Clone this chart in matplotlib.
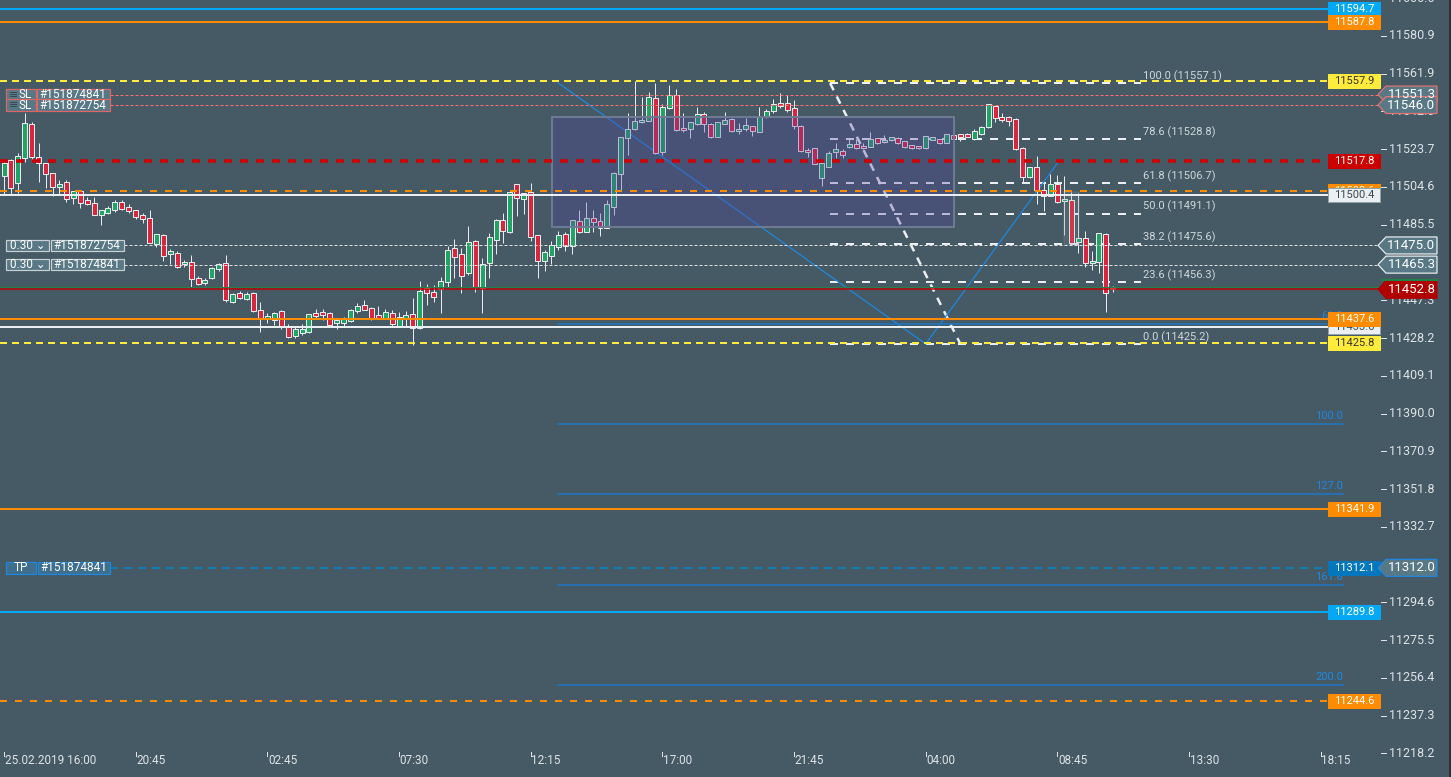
import matplotlib
matplotlib.use('Agg')
import matplotlib.pyplot as plt
from matplotlib.patches import Rectangle, Polygon

plt.rcParams['font.family'] = ['Roboto', 'DejaVu Sans']
plt.rcParams['lines.scale_dashes'] = False

# 15 minute candles, index 0 = 25.02.2019 16:00
opens = [11510.3, 11518.2, 11506.4, 11519.1, 11536.4, 11519.9, 11516.8, 11511.5, 11504.7, 11506.9,
         11498.8, 11502.5, 11498.0, 11496.3, 11490.5, 11491.5, 11492.9, 11496.8, 11494.4, 11492.9,
         11490.5, 11488.7, 11475.7, 11480.3, 11470.5, 11471.0, 11465.5, 11466.5, 11458.4, 11455.9,
         11458.4, 11462.9, 11466.0, 11446.6, 11450.8, 11447.8, 11450.8, 11442.4, 11437.7, 11437.3,
         11441.7, 11434.4, 11429.4, 11430.6, 11431.1, 11440.8, 11441.4, 11440.7, 11435.6, 11435.9,
         11437.0, 11442.0, 11444.9, 11443.2, 11439.7, 11438.5, 11440.7, 11434.4, 11438.5, 11440.2,
         11433.1, 11453.6, 11451.5, 11453.1, 11456.4, 11473.6, 11470.5, 11460.9, 11477.1, 11453.3,
         11466.0, 11477.9, 11487.7, 11482.0, 11505.9, 11498.3, 11501.9, 11480.3, 11467.3, 11469.8,
         11474.1, 11480.6, 11474.6, 11487.2, 11482.0, 11489.0, 11487.4, 11484.0, 11494.6, 11511.0,
         11529.2, 11533.7, 11537.3, 11537.8, 11549.4, 11522.4, 11544.3, 11551.2, 11534.4, 11533.7,
         11536.3, 11541.3, 11536.6, 11530.0, 11536.6, 11538.8, 11532.7, 11533.7, 11535.2, 11532.2,
         11540.3, 11542.8, 11546.9, 11546.9, 11544.3, 11535.2, 11523.1, 11524.1, 11509.0, 11514.8,
         11522.1, 11522.8, 11524.6, 11526.3, 11525.3, 11524.6, 11529.5, 11527.3, 11528.3, 11529.5,
         11527.8, 11525.6, 11525.1, 11524.1, 11528.5, 11528.7, 11527.0, 11530.7, 11531.2, 11531.2,
         11528.7, 11531.2, 11534.7, 11545.5, 11539.8, 11539.8, 11538.8, 11524.4, 11509.8, 11514.8,
         11503.0, 11500.0, 11505.9, 11497.3, 11498.0, 11476.9, 11478.6, 11466.0, 11466.5, 11480.8,
         11452.8]
highs = [11518.2, 11518.5, 11521.6, 11541.8, 11537.3, 11527.0, 11516.8, 11511.5, 11508.1, 11508.1,
         11502.5, 11502.5, 11499.3, 11499.3, 11492.9, 11494.9, 11498.0, 11498.0, 11496.0, 11492.9,
         11491.6, 11492.9, 11480.8, 11480.8, 11473.2, 11472.0, 11467.6, 11470.2, 11459.6, 11458.5,
         11464.0, 11466.0, 11470.2, 11451.0, 11452.0, 11451.5, 11451.6, 11446.6, 11440.7, 11441.5,
         11442.4, 11435.3, 11434.4, 11435.1, 11440.5, 11442.7, 11442.7, 11441.2, 11438.2, 11439.0,
         11442.9, 11446.1, 11447.4, 11444.0, 11444.4, 11442.7, 11442.4, 11441.4, 11441.9, 11448.3,
         11457.0, 11455.5, 11455.0, 11458.9, 11474.7, 11478.3, 11473.9, 11484.8, 11477.6, 11468.5,
         11481.1, 11488.2, 11491.6, 11502.2, 11506.2, 11501.6, 11506.7, 11480.3, 11472.7, 11477.2,
         11482.3, 11482.0, 11487.7, 11492.9, 11497.1, 11492.9, 11491.3, 11497.8, 11512.3, 11529.9,
         11542.1, 11558.1, 11550.2, 11552.7, 11557.0, 11546.4, 11556.1, 11554.1, 11541.8, 11537.3,
         11545.1, 11542.6, 11536.8, 11537.5, 11542.3, 11539.6, 11536.8, 11539.3, 11535.4, 11544.8,
         11543.8, 11548.9, 11551.9, 11551.1, 11548.5, 11535.9, 11524.4, 11524.1, 11516.5, 11522.8,
         11526.6, 11523.8, 11529.2, 11528.7, 11526.6, 11532.2, 11529.5, 11530.8, 11529.9, 11529.7,
         11528.0, 11525.8, 11525.3, 11530.4, 11530.0, 11528.9, 11531.4, 11530.9, 11531.4, 11531.7,
         11533.9, 11535.2, 11546.6, 11545.7, 11542.1, 11540.5, 11539.6, 11524.6, 11514.9, 11520.2,
         11506.7, 11511.0, 11510.6, 11510.1, 11502.2, 11501.7, 11482.3, 11472.2, 11481.3, 11481.4,
         11454.6]
lows = [11500.5, 11500.5, 11501.4, 11517.3, 11518.2, 11507.2, 11503.9, 11500.0, 11500.5, 11497.1,
        11496.0, 11494.1, 11495.5, 11490.5, 11485.3, 11491.0, 11492.1, 11493.0, 11491.6, 11488.5,
        11486.5, 11476.4, 11474.4, 11467.1, 11465.6, 11463.5, 11464.3, 11454.1, 11455.0, 11455.0,
        11457.8, 11462.0, 11446.6, 11446.0, 11447.8, 11447.3, 11441.5, 11431.1, 11435.6, 11434.8,
        11432.6, 11428.1, 11428.1, 11429.7, 11430.6, 11438.2, 11437.3, 11433.9, 11432.6, 11433.9,
        11436.5, 11440.7, 11442.4, 11437.3, 11438.0, 11438.0, 11433.9, 11433.9, 11433.9, 11424.7,
        11432.8, 11444.9, 11446.6, 11440.7, 11454.1, 11458.7, 11451.1, 11460.0, 11451.6, 11441.0,
        11458.7, 11470.5, 11476.4, 11481.5, 11489.9, 11490.9, 11477.4, 11458.4, 11462.2, 11465.5,
        11472.7, 11472.3, 11470.8, 11481.1, 11482.0, 11481.6, 11479.9, 11484.0, 11490.4, 11503.0,
        11520.7, 11533.4, 11537.0, 11537.8, 11521.3, 11520.7, 11544.0, 11533.0, 11532.5, 11529.2,
        11536.0, 11532.2, 11529.2, 11529.6, 11536.4, 11532.2, 11531.2, 11533.0, 11530.5, 11532.2,
        11539.3, 11541.8, 11544.3, 11542.6, 11533.9, 11522.4, 11519.9, 11516.0, 11505.1, 11514.8,
        11519.1, 11519.4, 11524.4, 11523.8, 11523.8, 11524.6, 11526.3, 11527.0, 11528.0, 11526.3,
        11524.4, 11524.0, 11523.9, 11523.8, 11528.3, 11526.3, 11526.6, 11524.4, 11527.8, 11529.8,
        11528.3, 11530.7, 11534.5, 11537.6, 11537.6, 11535.4, 11523.4, 11506.4, 11509.0, 11495.8,
        11492.6, 11499.8, 11496.6, 11480.3, 11476.1, 11471.0, 11463.9, 11462.6, 11461.2, 11441.5,
        11451.5]
closes = [11516.8, 11504.2, 11520.2, 11536.8, 11519.6, 11516.5, 11511.0, 11504.7, 11505.9, 11498.5,
          11502.5, 11496.6, 11495.8, 11490.5, 11492.9, 11493.9, 11496.8, 11493.4, 11492.6, 11489.5,
          11488.2, 11476.4, 11480.8, 11469.8, 11472.2, 11464.3, 11466.5, 11458.0, 11455.4, 11457.5,
          11463.4, 11465.5, 11447.4, 11450.3, 11448.3, 11450.3, 11441.9, 11438.2, 11439.3, 11440.7,
          11433.9, 11428.9, 11432.8, 11432.8, 11440.2, 11439.5, 11440.0, 11434.6, 11437.3, 11438.2,
          11442.4, 11444.4, 11442.4, 11438.2, 11438.5, 11441.2, 11435.1, 11438.7, 11439.8, 11433.1,
          11452.0, 11450.8, 11449.1, 11457.0, 11472.5, 11469.3, 11459.7, 11476.7, 11453.8, 11465.6,
          11479.1, 11487.7, 11482.5, 11501.9, 11498.8, 11501.4, 11479.1, 11467.3, 11471.7, 11475.1,
          11480.3, 11474.9, 11487.7, 11481.6, 11489.0, 11487.0, 11483.7, 11495.8, 11511.5, 11529.7,
          11533.7, 11537.8, 11538.3, 11549.9, 11521.6, 11544.8, 11551.2, 11533.2, 11533.2, 11537.3,
          11541.6, 11536.3, 11530.0, 11537.3, 11538.3, 11532.7, 11533.7, 11535.7, 11532.7, 11540.3,
          11542.8, 11546.4, 11545.5, 11543.6, 11535.2, 11522.8, 11522.1, 11516.0, 11516.5, 11521.6,
          11523.6, 11520.6, 11526.3, 11524.1, 11524.1, 11528.7, 11526.8, 11528.3, 11529.7, 11526.8,
          11524.6, 11524.1, 11524.1, 11530.2, 11529.7, 11526.6, 11531.2, 11528.7, 11530.0, 11530.0,
          11532.9, 11535.0, 11546.4, 11539.3, 11538.4, 11538.1, 11523.6, 11509.5, 11514.8, 11503.0,
          11500.0, 11505.9, 11496.8, 11498.3, 11476.4, 11478.6, 11466.0, 11467.1, 11481.1, 11450.8,
          11452.8]

time_labels = ['25.02.2019 16:00', '20:45', '02:45', '07:30', '12:15', '17:00',
               '21:45', '04:00', '08:45', '13:30', '18:15']
bars_per_label = 19

axis_ticks = [11600.0, 11580.9, 11561.9, 11542.8, 11523.7, 11504.6, 11485.5, 11466.4, 11447.3,
              11428.2, 11409.1, 11390.0, 11370.9, 11351.8, 11332.7, 11313.6, 11294.6, 11275.5,
              11256.4, 11237.3, 11218.2]

# horizontal levels with a label box on the right
level_prices = [11594.7, 11587.8, 11557.9, 11517.8, 11502.6, 11500.4, 11433.6, 11437.6,
                11425.8, 11341.9, 11312.1, 11289.8, 11244.6]

# order lines (stop loss / open orders / take profit)
sl_prices = [11551.3, 11546.0]
sl_tickets = ['#151874841', '#151872754']
order_prices = [11475.0, 11465.3]
order_tickets = ['#151872754', '#151874841']
order_lots = ['0.30', '0.30']
tp_price = 11312.0
tp_ticket = '#151874841'
bid, ask = 11452.8, 11454.0

# fibonacci retracement
fib_x = [119.2, 138.0]
fib_ratios = ['100.0', '78.6', '61.8', '50.0', '38.2', '23.6', '0.0']
fib_prices = [11557.1, 11528.8, 11506.7, 11491.1, 11475.6, 11456.3, 11425.2]
fib_end = 164.0

# fibonacci extension
ext_x = [80, 133, 152]
ext_y = [11557.1, 11425.2, 11516.6]
ext_ratios = ['61.8', '100.0', '127.0', '161.8', '200.0']
ext_prices = [11435.1, 11384.7, 11349.1, 11303.2, 11252.8]
ext_end = 193.2

# rectangles
box_x = [79.1, 137.1]
box_y = [11484.3, 11539.9]
small_box_x = [152.9, 155.1]
small_box_y = [11475.2, 11502.2]

BG = '#455a64'
GREEN = '#1fa463'
RED = '#d7263d'
EDGE = '#e8eaed'
ORANGE = '#ff8c00'
YELLOW = '#ffeb3b'
LBLUE = '#03a9f4'
WHITE = '#eceff1'
TAG = '#587886'

W, H = 1451, 777
X0, X1 = -0.58, 208.8
Y0, Y1 = 11206.25, 11599.1


def xd(px):
    return X0 + px * (X1 - X0) / W


def hd(px):
    return px * (Y1 - Y0) / H


def yd(px):
    return Y1 - hd(px)


def pt(px):
    return px * 0.72


fig = plt.figure(figsize=(W / 100, H / 100), dpi=100)
fig.patch.set_facecolor(BG)
ax = fig.add_axes([0, 0, 1, 1])
ax.set_facecolor(BG)
ax.set_xlim(X0, X1)
ax.set_ylim(Y0, Y1)
ax.axis('off')

# candles
for i, (o, h, l, c) in enumerate(zip(opens, highs, lows, closes)):
    ax.vlines(i, l, h, color=EDGE, lw=pt(1), zorder=3)
    bot = min(o, c)
    ht = max(abs(c - o), hd(1.5))
    ax.add_patch(Rectangle((i - 0.36, bot), 0.72, ht, fc=GREEN if c >= o else RED,
                           ec=EDGE, lw=pt(1), zorder=3.1))

# fibonacci retracement
ax.plot(fib_x, [fib_prices[0], fib_prices[-1]], color=WHITE, lw=pt(2.5),
        dashes=(pt(8), pt(7)), zorder=2.5)
for r, p in zip(fib_ratios, fib_prices):
    ax.plot([fib_x[0], fib_end], [p, p], color=WHITE, lw=pt(2), dashes=(pt(8), pt(8)), zorder=2.5)
    ax.text(xd(1143), p + hd(7), f'{r} ({p:.1f})', color='#cfd8dc', fontsize=8,
            ha='left', va='center', zorder=2.5)

# fibonacci extension
ax.plot(ext_x, ext_y, color='#1e88e5', lw=pt(1.2), zorder=2.6)
for r, p in zip(ext_ratios, ext_prices):
    ax.plot([ext_x[0], ext_end], [p, p], color='#1e78c8', lw=pt(1.5), zorder=2.6)
    ax.text(xd(1343), p + hd(8), r, color='#1e88e5', fontsize=8, ha='right', va='center',
            zorder=2.6)

# rectangles
ax.add_patch(Rectangle((box_x[0], box_y[0]), box_x[1] - box_x[0], box_y[1] - box_y[0],
                       fc='#5040a0', alpha=0.3, ec='none', zorder=4))
ax.add_patch(Rectangle((box_x[0], box_y[0]), box_x[1] - box_x[0], box_y[1] - box_y[0],
                       fc='none', ec='#6d7a92', lw=pt(2), zorder=4))
ax.add_patch(Rectangle((small_box_x[0], small_box_y[0]), small_box_x[1] - small_box_x[0],
                       small_box_y[1] - small_box_y[0], fc='#90a4ae', alpha=0.15,
                       ec='#8a9aa5', lw=pt(2), zorder=4))

# level lines: color, width px, dash px, start px, label colour, label text colour
level_style = [
    (LBLUE, 2, None, 0, LBLUE, 'white'),
    (ORANGE, 2, None, 0, ORANGE, 'white'),
    (YELLOW, 2, (7, 5), 0, YELLOW, '#333333'),
    ('#cc0000', 3.5, (8, 8), 0, '#cc0000', 'white'),
    (ORANGE, 2, (7, 8), 0, ORANGE, 'white'),
    (WHITE, 2, None, 0, WHITE, '#37474f'),
    (WHITE, 2, None, 0, WHITE, '#37474f'),
    (ORANGE, 2, None, 0, ORANGE, 'white'),
    (YELLOW, 2, (7, 5), 0, YELLOW, '#333333'),
    (ORANGE, 2, None, 0, ORANGE, 'white'),
    ('#0288d1', 1.5, (8, 6), 110, '#0277bd', 'white'),
    (LBLUE, 2, None, 0, LBLUE, 'white'),
    (ORANGE, 2, (7, 8), 0, ORANGE, 'white'),
]
for k, (p, st) in enumerate(zip(level_prices, level_style)):
    col, lw, dash, start, lfc, ltc = st
    kw = dict(dashes=(pt(dash[0]), pt(dash[1]))) if dash else {}
    ax.plot([xd(start), xd(1328)], [p, p], color=col, lw=pt(lw), zorder=5, **kw)
    z = 6 + k * 0.01
    ax.add_patch(Rectangle((xd(1328), p - hd(7)), xd(1380) - xd(1328), hd(14), fc=lfc,
                           ec='#90a4ae' if lfc == WHITE else lfc, lw=pt(1), zorder=z))
    ax.text(xd(1354), p, f'{p:.1f}', color=ltc, fontsize=8, ha='center', va='center',
            zorder=z + 0.005)

# bid / ask
ax.plot([xd(0), xd(1380)], [ask, ask], color='#1e8449', lw=pt(1), zorder=5)
ax.plot([xd(0), xd(1380)], [bid, bid], color='#c00000', lw=pt(1.5), zorder=5)


def tag(price, fc, ec, z=7):
    h = hd(8.5)
    pts = [(xd(1378), price), (xd(1386), price + h), (xd(1437), price + h),
           (xd(1437), price - h), (xd(1386), price - h)]
    ax.add_patch(Polygon(pts, closed=True, fc=fc, ec=ec, lw=pt(1.2), zorder=z))
    ax.text(xd(1411.5), price, f'{price:.1f}', color='white', fontsize=9.5, ha='center',
            va='center', zorder=z + 0.01)


def order_box(price, left, right, x_split, x_end, ec, fc, icon=False):
    h = hd(11.5)
    ax.add_patch(Rectangle((xd(5.5), price - h / 2), xd(x_split) - xd(5.5), h, fc=fc, ec=ec,
                           lw=pt(1.2), zorder=6))
    ax.add_patch(Rectangle((xd(x_split + 1.5), price - h / 2), xd(x_end) - xd(x_split + 1.5), h,
                           fc=fc, ec=ec, lw=pt(1.2), zorder=6))
    if icon:
        ax.text(xd(14), price, '≡', color='#37474f', fontsize=8, ha='center', va='center',
                zorder=6.1)
        ax.text(xd(25), price, left, color='white', fontsize=8.5, ha='center', va='center',
                zorder=6.1)
    else:
        ax.text(xd((5.5 + x_split) / 2), price, left, color='white', fontsize=8.5, ha='center',
                va='center', zorder=6.1)
    ax.text(xd((x_split + 1.5 + x_end) / 2), price, right, color='white', fontsize=8.5,
            ha='center', va='center', zorder=6.1)


for p, t in zip(sl_prices, sl_tickets):
    ax.plot([xd(110), xd(1380)], [p, p], color='#ff6e6e', lw=pt(1), dashes=(pt(3), pt(2)),
            zorder=5)
    order_box(p, 'SL', t, 35.5, 109.5, '#e06666', TAG, icon=True)
    tag(p, TAG, '#e57373')

for p, t, lot in zip(order_prices, order_tickets, order_lots):
    ax.plot([xd(124), xd(1380)], [p, p], color='#e0e0e0', lw=pt(1), dashes=(pt(3), pt(2)),
            zorder=5)
    order_box(p, lot + ' ⌄', t, 49.5, 123.5, '#c8d0d4', TAG)
    tag(p, TAG, '#eceff1')

order_box(tp_price, 'TP', tp_ticket, 36, 110, '#1e88e5', '#3f6f8c')
tag(tp_price, TAG, '#1e88e5')

# current price tag
h = hd(9)
pts = [(xd(1378), bid), (xd(1386), bid + h), (xd(1437), bid + h), (xd(1437), bid - h),
       (xd(1386), bid - h)]
ax.add_patch(Polygon(pts, closed=True, fc='#b00000', ec='#b00000', lw=pt(1), zorder=7))
ax.plot([xd(1382), xd(1437)], [bid + h, bid + h], color='#1e8449', lw=pt(2), zorder=7.05)
ax.text(xd(1411.5), bid, f'{bid:.1f}', color='white', fontsize=9.5, ha='center', va='center',
        zorder=7.1)

# price axis
for t in axis_ticks:
    ax.plot([xd(1381), xd(1386)], [t, t], color='#dfe3e6', lw=pt(1), zorder=1)
    ax.text(xd(1389), t, f'{t:.1f}', color='#dfe3e6', fontsize=9, ha='left', va='center',
            zorder=1)

# time axis
for k, lab in enumerate(time_labels):
    x = k * bars_per_label
    ax.plot([x, x], [yd(752), yd(756)], color='#dfe3e6', lw=pt(1), zorder=1)
    ax.text(x + 0.1, yd(760.5), lab, color='#dfe3e6', fontsize=8.5, ha='left', va='center',
            zorder=1)

ax.plot([xd(1449.5), xd(1449.5)], [Y0, Y1], color='#263238', lw=pt(3), zorder=8)

fig.savefig('out.png', dpi=100, facecolor=BG)
